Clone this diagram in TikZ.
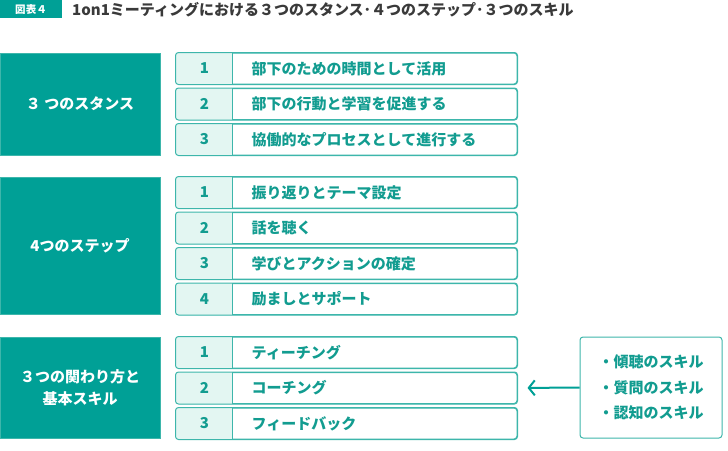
\documentclass[tikz,border=0pt]{standalone}
\usepackage{fontspec}
\setmainfont{Noto Sans CJK JP}
\usetikzlibrary{arrows.meta}

\definecolor{teal1}{HTML}{00A096}
\definecolor{tealline}{HTML}{3DB6AB}
\definecolor{tealtext}{HTML}{129C90}
\definecolor{numfill}{HTML}{E3F6F2}
\definecolor{titlegray}{HTML}{3A3A3A}

\tikzset{
    tag/.style={fill=teal1, text=white, minimum width=62pt, minimum height=18pt, inner sep=0pt, font=\fontsize{10.5}{10.5}\selectfont\bfseries},
    group/.style={fill=teal1, draw=tealline, line width=0.6pt, text=white, minimum width=160pt, inner sep=0pt, align=center, font=\fontsize{15}{22}\selectfont\bfseries},
    row/.style={draw=tealline, line width=1pt, rounded corners=3pt, minimum width=341pt, minimum height=31pt, inner sep=0pt},
    rowtext/.style={text=tealtext, font=\fontsize{15}{15}\selectfont\bfseries, anchor=west, inner sep=0pt},
    numtext/.style={text=tealtext, font=\fontsize{15}{15}\selectfont\bfseries, inner sep=0pt},
}

\begin{document}
\begin{tikzpicture}[x=1pt,y=-1pt]

    \useasboundingbox (0,0) rectangle (728,450);

    % title
    \node[tag] (tag) at (31,9) {図表４};
    \node[anchor=west, inner sep=0pt, text=titlegray, font=\fontsize{15}{15}\selectfont\bfseries] (title) at (72,10) {1on1ミーティングにおける３つのスタンス･４つのステップ･３つのスキル};

    % left boxes
    \node[group, minimum height=102pt] (stance) at (80,104) {３ つのスタンス};
    \node[group, minimum height=137pt] (step) at (80,245.5) {4つのステップ};
    \node[group, minimum height=101pt] (skill) at (80,387.5) {３つの関わり方と\\基本スキル};

    % rows
    \foreach \g/\ytop/\items in {a/53/{部下のための時間として活用,部下の行動と学習を促進する,協働的なプロセスとして進行する},
                                 b/177/{振り返りとテーマ設定,話を聴く,学びとアクションの確定,励ましとサポート},
                                 c/337/{ティーチング,コーチング,フィードバック}} {
        \foreach \t [count=\n] in \items {
            \node[row] (\g\n) at (346.5,{\ytop+15.5+(\n-1)*35.5}) {};
            \begin{scope}
                \clip[rounded corners=3pt] (\g\n.north west) rectangle (\g\n.south east);
                \fill[numfill] (\g\n.north west) rectangle ([xshift=57pt]\g\n.south west);
            \end{scope}
            \draw[tealline, line width=1pt, rounded corners=3pt] (\g\n.north west) rectangle (\g\n.south east);
            \draw[tealline, line width=1pt] ([xshift=57pt]\g\n.north west) -- ([xshift=57pt]\g\n.south west);
            \node[numtext] at ([xshift=29pt]\g\n.west) {\n};
            \node[rowtext] at ([xshift=76pt]\g\n.west) {\t};
        }
    }

    % skills box
    \node[draw=tealline, line width=1pt, rounded corners=3pt, minimum width=142pt, minimum height=101pt, inner sep=0pt,
          text=tealtext, align=left, font=\fontsize{15}{25.5}\selectfont\bfseries] (skills) at (651,387.5)
          {・傾聴のスキル\\・質問のスキル\\・認知のスキル};

    \draw[teal1, line width=2pt, -{Straight Barb[length=6pt,width=15pt]}, shorten >=10pt] (skills.west) -- (c2.east);

\end{tikzpicture}
\end{document}
